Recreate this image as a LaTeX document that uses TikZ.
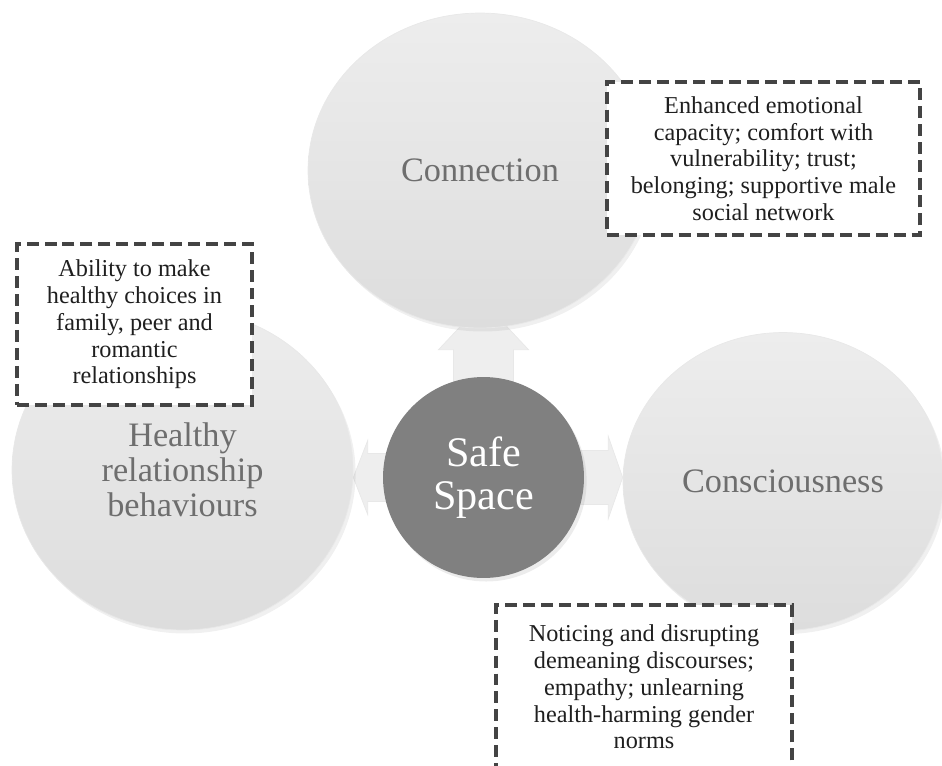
\documentclass[tikz,border=0pt]{standalone}
\usepackage{fontspec}
\setmainfont{Liberation Serif}
\usepackage{tikz}
\usetikzlibrary{shapes.geometric,backgrounds,calc,shadows}
\definecolor{ringtop}{RGB}{237,237,237}
\definecolor{ringbot}{RGB}{221,221,221}
\definecolor{ringtext}{RGB}{110,110,110}
\definecolor{hubfill}{RGB}{128,128,128}
\definecolor{pushfill}{RGB}{238,238,238}
\definecolor{noteline}{RGB}{68,68,68}

\begin{document}
\begin{tikzpicture}[x=0.02cm, y=0.02cm,
	ring/.style={ellipse, inner sep=0pt, top color=ringtop, bottom color=ringbot, draw=black!9, line width=0.4pt,
		text=ringtext, align=center, font=\fontsize{19.5}{19.8}\selectfont,
		drop shadow={shadow xshift=1.5pt, shadow yshift=-2pt, opacity=0.12}},
	hub/.style={circle, inner sep=0pt, minimum size=4.02cm, fill=hubfill, text=white, align=center,
		font=\fontsize{24}{24.5}\selectfont, drop shadow={shadow xshift=1.5pt, shadow yshift=-2pt, opacity=0.15}},
	note/.style={rectangle, inner sep=0pt, fill=white, draw=noteline, line width=2.3pt,
		dash pattern=on 6.8pt off 3.4pt, align=center, text=black!88, font=\fontsize{13.8}{15.2}\selectfont},
	push/.style={fill=pushfill, draw=black!9, line width=0.4pt}]
			\useasboundingbox (0,0) rectangle (942,-765);
			\clip (0,0) rectangle (942,-765);
			\node [ring, minimum width=6.88cm, minimum height=6.3cm] (conn) at (480,-170.5) {Connection};
			\node [ring, minimum width=6.82cm, minimum height=6.4cm] (health) at (182.5,-470) {Healthy\\relationship\\behaviours};
			\node [ring, minimum width=6.4cm, minimum height=5.96cm] (cons) at (783,-481.5) {Consciousness};
			\node [hub] (safe) at (483.5,-477.5) {Safe\\Space};
			\begin{scope}[on background layer]
			\path [push] ($(safe.north)+(-30,-12)$) -- ($(safe.north)+(-30,27)$) -- ($(safe.north)+(-45,27)$) -- ($(safe.north)+(0,75)$)
				-- ($(safe.north)+(45,27)$) -- ($(safe.north)+(30,27)$) -- ($(safe.north)+(30,-12)$) -- cycle;
			\path [push] ($(safe.east)+(-12,27)$) -- ($(safe.east)+(24,27)$) -- ($(safe.east)+(24,41)$) -- (cons.west |- safe.east)
				-- ($(safe.east)+(24,-41)$) -- ($(safe.east)+(24,-27)$) -- ($(safe.east)+(-12,-27)$) -- cycle;
			\path [push] ($(safe.west)+(12,24)$) -- ($(safe.west)+(-15,24)$) -- ($(safe.west)+(-15,37)$) -- (health.east |- safe.west)
				-- ($(safe.west)+(-15,-37)$) -- ($(safe.west)+(-15,-24)$) -- ($(safe.west)+(12,-24)$) -- cycle;
			\end{scope}
			\node [note, minimum width=6.26cm, minimum height=3.06cm] (conn-note) at (763.5,-158.5) {Enhanced emotional\\capacity; comfort with\\vulnerability; trust;\\belonging; supportive male\\social network};
			\node [note, minimum width=4.7cm, minimum height=3.22cm] (health-note) at (134.5,-324.5) {Ability to make\\healthy choices in\\family, peer and\\romantic\\relationships};
			\node [note, minimum width=5.92cm, minimum height=3.28cm] (cons-note) at (644,-687) {Noticing and disrupting\\demeaning discourses;\\empathy; unlearning\\health-harming gender\\norms};
			\end{tikzpicture}
\end{document}
